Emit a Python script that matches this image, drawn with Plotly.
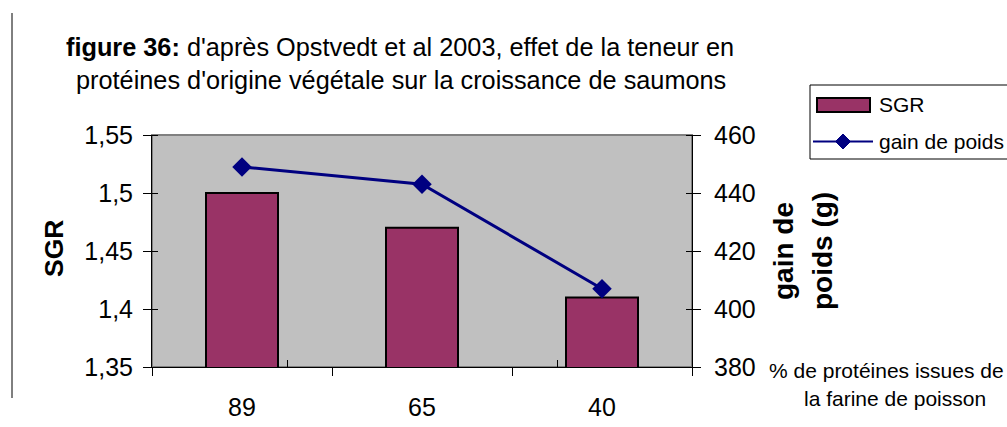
import plotly.graph_objects as go

# Data
categories = ["89", "65", "40"]
sgr = [1.50, 1.47, 1.41]
gain_poids = [449, 443, 407]
sgr_ticks = [1.35, 1.40, 1.45, 1.50, 1.55]
sgr_tick_labels = ["1,35", "1,4", "1,45", "1,5", "1,55"]
gain_ticks = [380, 400, 420, 440, 460]
gain_tick_labels = ["380", "400", "420", "440", "460"]

W, H = 1007, 427
L, R, T, B = 152, 692, 135, 367  # plot area in pixels

BAR_COLOR = "#993366"
LINE_COLOR = "#000080"
FONT = "Liberation Sans, Arial, sans-serif"


def px(x):
    return (x - L) / (R - L)


def py(y):
    return (B - y) / (B - T)


fig = go.Figure()

fig.add_trace(go.Bar(
    x=categories, y=sgr, name="SGR",
    marker=dict(color=BAR_COLOR, line=dict(color="black", width=2)),
    width=0.4, yaxis="y", xaxis="x", showlegend=False,
))
fig.add_trace(go.Scatter(
    x=categories, y=gain_poids, name="gain de poids",
    mode="lines+markers",
    line=dict(color=LINE_COLOR, width=3),
    marker=dict(symbol="diamond", size=15, color=LINE_COLOR),
    yaxis="y2", xaxis="x", showlegend=False,
))
# invisible trace so the overlay x axis (boundary ticks inside) is drawn
fig.add_trace(go.Scatter(x=categories, y=sgr, xaxis="x2", yaxis="y",
                         mode="none", showlegend=False, hoverinfo="skip"))

tick_common = dict(ticks="outside", ticklen=8, tickcolor="black", tickwidth=1,
                   showgrid=False, zeroline=False, showline=True,
                   linecolor="black", linewidth=1, automargin=False,
                   tickfont=dict(family=FONT, size=25, color="black"))

fig.update_layout(
    width=W, height=H,
    margin=dict(l=L, r=W - R, t=T, b=H - B, pad=0, autoexpand=False),
    paper_bgcolor="white",
    plot_bgcolor="#C0C0C0",
    separators=", ",
    showlegend=False,
    xaxis=dict(
        type="category", domain=[0, 1], tickson="boundaries",
        ticks="outside", ticklen=8, tickcolor="black",
        showline=True, linecolor="black", linewidth=1,
        showgrid=False, ticklabelstandoff=18, automargin=False,
        tickfont=dict(family=FONT, size=25, color="black"),
    ),
    xaxis2=dict(
        type="category", overlaying="x", anchor="y", side="bottom",
        tickson="boundaries", ticks="inside", ticklen=7, tickcolor="black",
        showticklabels=False, showline=False, showgrid=False, automargin=False,
        categoryorder="array", categoryarray=categories,
    ),
    yaxis=dict(
        range=[1.35, 1.55], tickvals=sgr_ticks, ticktext=sgr_tick_labels,
        ticklabelstandoff=5,
        minor=dict(tickvals=sgr_ticks, ticks="inside", ticklen=6,
                   tickcolor="black", showgrid=False),
        **tick_common,
    ),
    yaxis2=dict(
        range=[380, 460], tickvals=gain_ticks, ticktext=gain_tick_labels,
        overlaying="y", side="right", anchor="x",
        ticklabelstandoff=8,
        minor=dict(tickvals=gain_ticks, ticks="inside", ticklen=6,
                   tickcolor="black", showgrid=False),
        **tick_common,
    ),
)

# plot area frame
fig.add_shape(type="rect", xref="x domain", yref="y domain",
              x0=0, x1=1, y0=0, y1=1, line=dict(color="#808080", width=2),
              layer="below")
# left border line of the chart object
fig.add_shape(type="line", xref="paper", yref="paper",
              x0=px(12), x1=px(12), y0=py(13), y1=py(398),
              line=dict(color="black", width=1))

# legend box with its two keys
fig.add_shape(type="rect", xref="paper", yref="paper",
              x0=px(810), x1=px(1020), y0=py(85), y1=py(159),
              line=dict(color="black", width=1), fillcolor="white")
fig.add_shape(type="rect", xref="paper", yref="paper",
              x0=px(817), x1=px(870), y0=py(98), y1=py(112),
              line=dict(color="black", width=2), fillcolor=BAR_COLOR)
fig.add_shape(type="line", xref="paper", yref="paper",
              x0=px(813), x1=px(873), y0=py(141.5), y1=py(141.5),
              line=dict(color=LINE_COLOR, width=2))
cx, cy, d = 843, 141.5, 7.5
fig.add_shape(type="path", xref="paper", yref="paper",
              path=(f"M {px(cx - d)},{py(cy)} L {px(cx)},{py(cy - d)} "
                    f"L {px(cx + d)},{py(cy)} L {px(cx)},{py(cy + d)} Z"),
              line=dict(color=LINE_COLOR, width=1), fillcolor=LINE_COLOR)

legend_labels = [("SGR", 105), ("gain de poids", 141.5)]
for label, ly in legend_labels:
    fig.add_annotation(text=label, x=px(877), y=py(ly), xref="paper", yref="paper",
                       xanchor="left", yanchor="middle", showarrow=False,
                       font=dict(family=FONT, size=21, color="black"))

# title
title_lines = [
    ("<b>figure 36:</b> d'après Opstvedt et al 2003, effet de la teneur en", 400, 47),
    ("protéines d'origine végétale sur la croissance de saumons", 401, 80),
]
for text, tx, ty in title_lines:
    fig.add_annotation(text=text, x=px(tx), y=py(ty), xref="paper", yref="paper",
                       xanchor="center", yanchor="middle", showarrow=False,
                       font=dict(family=FONT, size=25.3, color="black"))

# axis titles
axis_titles = [("<b>SGR</b>", 54, 249, 26.5),
               ("<b>gain de</b>", 783, 251, 28),
               ("<b>poids (g)</b>", 822, 251, 28)]
for text, ax, ay, size in axis_titles:
    fig.add_annotation(text=text, textangle=-90, x=px(ax), y=py(ay),
                       xref="paper", yref="paper", xanchor="center", yanchor="middle",
                       showarrow=False, font=dict(family=FONT, size=size, color="black"))

# x axis caption
fig.add_annotation(text="% de protéines issues de", x=px(767), y=py(370),
                   xanchor="left", yanchor="middle",
                   xref="paper", yref="paper", showarrow=False,
                   font=dict(family=FONT, size=21, color="black"))
fig.add_annotation(text="la farine de poisson", x=px(895), y=py(398),
                   xanchor="center", yanchor="middle",
                   xref="paper", yref="paper", showarrow=False,
                   font=dict(family=FONT, size=21, color="black"))

fig.write_html("out.html")
